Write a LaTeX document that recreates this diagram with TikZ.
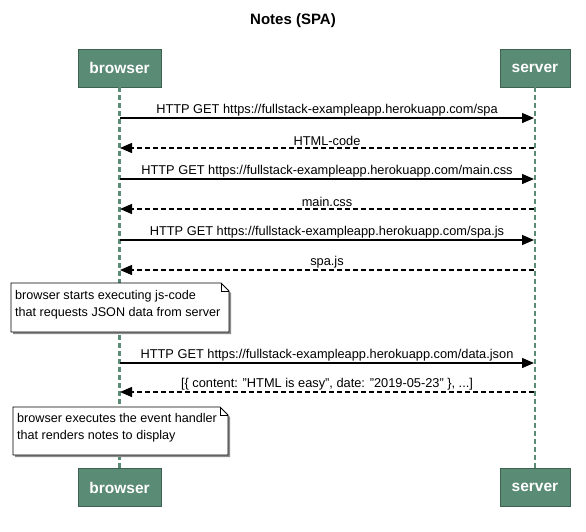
\documentclass[tikz,border=0pt]{standalone}
\usepackage{fontspec}
\setmainfont{Liberation Sans}
\usetikzlibrary{arrows.meta}
\definecolor{part}{HTML}{5A8B74}
\tikzset{
  x=1pt, y=-1pt,
  partbox/.style={fill=part, draw=part!70!black, line width=0.4pt, minimum width=#1, minimum height=38pt, inner sep=0pt, text=white, font=\fontsize{15.5}{17}\selectfont\bfseries},
  lifeline/.style={draw=part, line width=2.6pt, dash pattern=on 5pt off 3pt},
  req/.style={draw=black, line width=1.3pt, -{Triangle[length=12pt,width=10pt]}},
  resp/.style={draw=black, line width=1.3pt, dash pattern=on 5pt off 3pt, -{Triangle[length=12pt,width=10pt]}},
  msg/.style={font=\fontsize{12.8}{14}\selectfont, inner sep=1.5pt, anchor=south},
  notetext/.style={font=\fontsize{12.6}{17}\selectfont, align=left, anchor=north west, inner sep=0pt},
}
\begin{document}
\begin{tikzpicture}
\useasboundingbox (0,0) rectangle (586,531);
\node[font=\fontsize{15}{17}\selectfont\bfseries] (title) at (293,21) {Notes (SPA)};
% participants
\node[partbox=83pt] (bt) at (119.5,68) {browser};
\node[partbox=70pt] (st) at (535,68) {server};
\node[partbox=83pt] (bb) at (119.5,487.5) {browser};
\node[partbox=70pt] (sb) at (535,487.5) {server};
\draw[lifeline] (bt.south) -- (bb.north);
\draw[lifeline] (st.south) -- (sb.north);
% message anchor coordinates
\foreach \n/\y in {1/118,2/148,3/179,4/209,5/240,6/270,7/363,8/392}{
  \coordinate (b\n) at (120,\y);
  \coordinate (s\n) at (534,\y);
}
\draw[req] (b1) -- (s1) node[msg, midway] {HTTP GET https://fullstack-exampleapp.herokuapp.com/spa};
\draw[resp] (s2) -- (b2) node[msg, midway] {HTML-code};
\draw[req] (b3) -- (s3) node[msg, midway] {HTTP GET https://fullstack-exampleapp.herokuapp.com/main.css};
\draw[resp] (s4) -- (b4) node[msg, midway] {main.css};
\draw[req] (b5) -- (s5) node[msg, midway] {HTTP GET https://fullstack-exampleapp.herokuapp.com/spa.js};
\draw[resp] (s6) -- (b6) node[msg, midway] {spa.js};
\draw[req] (b7) -- (s7) node[msg, midway] {HTTP GET https://fullstack-exampleapp.herokuapp.com/data.json};
\draw[resp] (s8) -- (b8) node[msg, midway] {[\{ content: "HTML is easy", date: "2019-05-23" \}, ...]};
% note 1
\fill[black!45] (13,285) -- (223,285) -- (231,293) -- (231,334) -- (13,334) -- cycle;
\draw[fill=white, line width=0.8pt] (11,283) -- (221,283) -- (229,291) -- (229,332) -- (11,332) -- cycle;
\draw[line width=0.6pt] (221,283) -- (221,291) -- (229,291);
\node[notetext] (n1) at (15,290) {browser starts executing js-code\\that requests JSON data from server};
% note 2
\fill[black!45] (15,409) -- (222,409) -- (230,417) -- (230,457) -- (15,457) -- cycle;
\draw[fill=white, line width=0.8pt] (13,407) -- (220,407) -- (228,415) -- (228,455) -- (13,455) -- cycle;
\draw[line width=0.6pt] (220,407) -- (220,415) -- (228,415);
\node[notetext] (n2) at (17,413) {browser executes the event handler\\that renders notes to display};
\end{tikzpicture}
\end{document}
